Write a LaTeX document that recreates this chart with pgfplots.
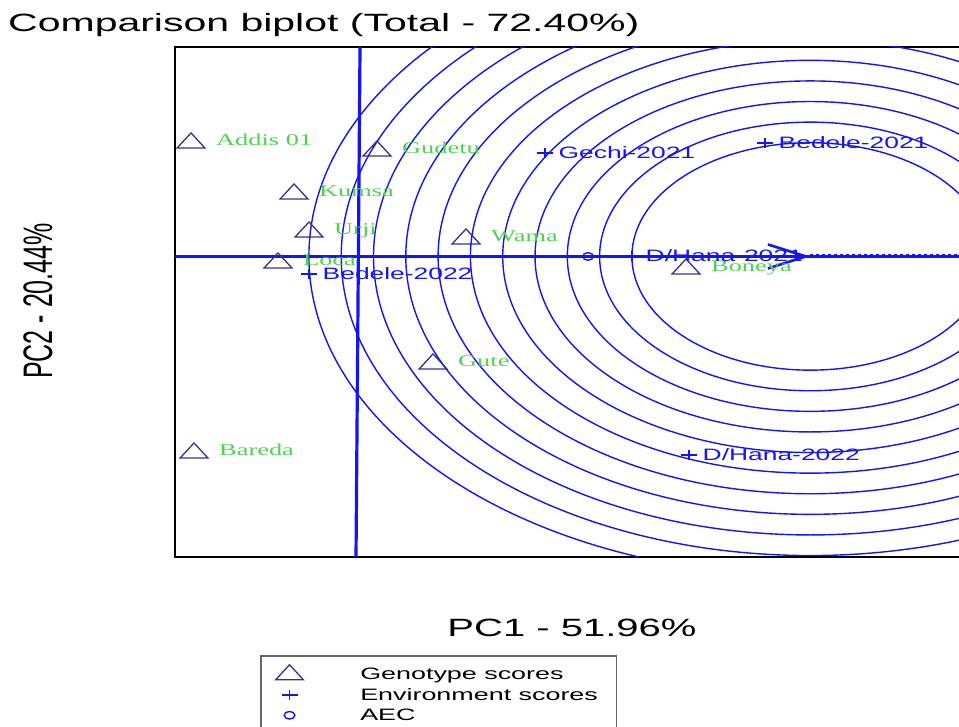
\documentclass[border=0pt]{standalone}
\usepackage{pgfplots}
\pgfplotsset{compat=1.18}
\usepackage{pgfplotstable}
\usepackage{fontspec}
\setmainfont{Liberation Sans}
\newfontfamily\seriffont{Liberation Serif}
\usetikzlibrary{arrows.meta}
\definecolor{gblue}{RGB}{20,20,245}
\definecolor{gnavy}{RGB}{50,50,140}
\definecolor{ggreen}{RGB}{80,210,80}

\pgfplotstableread[col sep=comma]{
x,y,label
-5.170,5.510,Addis 01
0.588,5.121,Gudetu
-1.981,3.034,Kumsa
-1.517,1.189,Urji
-2.477,-0.316,Loca
3.344,0.850,Wama
2.322,-5.218,Gute
-5.077,-9.539,Bareda
10.155,-0.607,Boneya
}\genotypes

\pgfplotstableread[col sep=comma]{
x,y,label
5.789,5.024,Gechi-2021
12.601,5.510,Bedele-2021
8.483,0.024,D/Hana-2021
-1.517,-0.850,Bedele-2022
10.248,-9.636,D/Hana-2022
}\environments

\begin{document}
\begin{tikzpicture}[x=1pt,y=1pt]
\useasboundingbox (0,0) rectangle (959,727);
\clip (0,0) rectangle (959,727);
\begin{axis}[
  at={(175pt,170pt)}, anchor=south west,
  x=32.3pt, y=20.6pt,
  xmin=-5.666, xmax=19.5, ymin=-14.59, ymax=10.17,
  xtick=\empty, ytick=\empty,
  axis line style={line width=2.5pt, black},
  clip=true,
  legend style={at={(0.1046,-0.1922)}, anchor=north west, draw=black!60, line width=1.5pt,
     fill=white, inner xsep=3pt, inner ysep=9pt, row sep=3pt, cells={anchor=west},
     nodes={inner sep=2pt, text depth=0.15em}},
  legend image code/.code={\draw[#1] plot coordinates {(25pt,0pt)}; \path (0pt,0pt) (93pt,0pt);},
]
% concentric circles around the ideal genotype
\pgfplotsinvokeforeach{5.52,6.52,7.52,8.52,9.52,10.52,11.52,12.52,13.52,14.52,15.52}{
  \draw[gblue, line width=1.4pt] (axis cs:14,0) ellipse [x radius=#1*32.3pt, y radius=#1*20.6pt];
}
% AEC abscissa and ordinate
\addplot[gblue, line width=2.4pt, forget plot] coordinates {(-5.666,0) (19.5,0)};
\addplot[gblue, line width=2.4pt, -{Straight Barb[length=38pt, width=24pt, line width=2.6pt]}, forget plot] coordinates {(0,0) (14,0)};
\addplot[gblue, line width=1.4pt, dash pattern=on 3pt off 3pt, forget plot] coordinates {(14,0.07) (19.5,0.07)};
\addplot[gblue, line width=3.2pt, forget plot] coordinates {(0.062,10.17) (-0.062,-14.59)};

% genotypes
\addplot[only marks, mark=triangle, mark size=10pt,
  mark options={xscale=1.6, line width=1.3pt, draw=gnavy},
  point meta=explicit symbolic,
  nodes near coords={\scalebox{1.6}[1]{\color{ggreen}\seriffont\fontsize{16.5}{18}\selectfont\pgfplotspointmeta}},
  nodes near coords style={anchor=base west, inner sep=0pt, xshift=24.5pt, yshift=-2.5pt, text=ggreen}]
  table[x=x, y=y, meta=label] {\genotypes};
\addlegendentry{\scalebox{1.63}[1]{\fontsize{16.5}{18}\selectfont Genotype scores}}

% environments
\addplot[only marks, mark=+, mark size=5pt,
  mark options={xscale=1.6, line width=1.4pt, draw=gblue},
  point meta=explicit symbolic,
  nodes near coords={\scalebox{1.6}[1]{\color{gblue}\fontsize{16.5}{18}\selectfont\pgfplotspointmeta}},
  nodes near coords style={anchor=base west, inner sep=0pt, xshift=13pt, yshift=-5.9pt, text=gblue}]
  table[x=x, y=y, meta=label] {\environments};
\addlegendentry{\makebox[251pt][l]{\scalebox{1.63}[1]{\fontsize{16.5}{18}\selectfont Environment scores}}}

% average environment coordinate
\addplot[only marks, mark=o, mark size=3.8pt,
  mark options={xscale=1.4, line width=1.4pt, draw=gblue}]
  coordinates {(7.121,0)};
\addlegendentry{\scalebox{1.63}[1]{\fontsize{16.5}{18}\selectfont AEC}}
\end{axis}

\node[anchor=base west, inner sep=0pt] at (8pt,695pt)
  {\scalebox{1.64}[1]{\fontsize{25}{30}\selectfont Comparison biplot (Total - 72.40\%)}};
\node[rotate=90, inner sep=0pt] at (38pt,426pt)
  {\scalebox{1}[1.65]{\fontsize{25}{30}\selectfont PC2 - 20.44\%}};
\node[inner sep=0pt] at (572pt,99pt)
  {\scalebox{1.6}[1]{\fontsize{25}{30}\selectfont PC1 - 51.96\%}};
\end{tikzpicture}
\end{document}
